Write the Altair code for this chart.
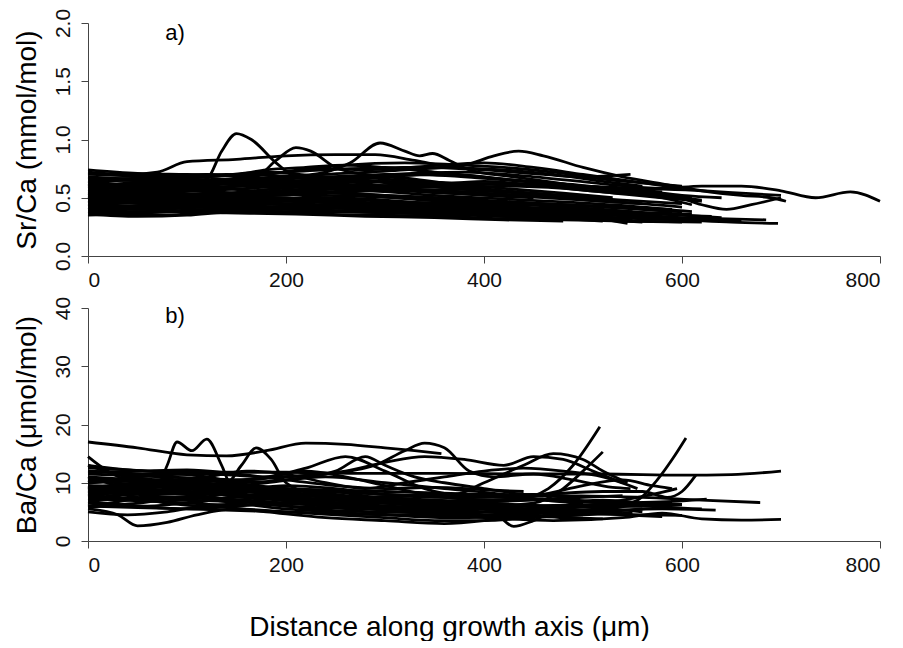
import altair as alt
import pandas as pd

# ---------------- data ----------------
X_TICKS = [0, 200, 400, 600, 800]
SR_TICKS = [0.0, 0.5, 1.0, 1.5, 2.0]
BA_TICKS = [0, 10, 20, 30, 40]

# Sr/Ca profiles (distance um, mmol/mol) - lines with distinct features
SR_FEATURE_LINES = [
    [(0,0.72),(40,0.70),(70,0.72),(100,0.81),(150,0.83),(200,0.86),(250,0.87),(290,0.87),(330,0.82),(370,0.76),(420,0.74),(470,0.70),(520,0.64),(560,0.60)],
    [(0,0.62),(50,0.60),(100,0.62),(120,0.66),(135,0.90),(150,1.05),(165,1.00),(190,0.80),(210,0.68),(260,0.64),(300,0.60),(350,0.55),(400,0.52),(450,0.50)],
    [(0,0.55),(60,0.58),(120,0.62),(170,0.68),(190,0.82),(210,0.93),(225,0.90),(250,0.76),(280,0.70),(330,0.66),(380,0.60),(430,0.55),(480,0.52),(520,0.48)],
    [(0,0.50),(60,0.55),(120,0.60),(180,0.66),(240,0.72),(265,0.80),(295,0.97),(320,0.90),(335,0.86),(348,0.88),(365,0.82),(385,0.74),(430,0.68),(480,0.62),(530,0.56),(580,0.50),(610,0.44)],
    [(0,0.60),(80,0.62),(160,0.66),(240,0.70),(320,0.74),(380,0.78),(410,0.86),(435,0.90),(460,0.86),(500,0.76),(540,0.68),(580,0.62),(620,0.56),(660,0.52),(690,0.50),(705,0.47)],
    [(0,0.65),(80,0.66),(160,0.70),(240,0.74),(320,0.76),(400,0.74),(460,0.70),(500,0.68),(548,0.70)],
    [(0,0.58),(100,0.60),(200,0.66),(300,0.70),(380,0.72),(450,0.68),(520,0.62),(580,0.58),(620,0.60),(660,0.60),(700,0.56),(735,0.50),(770,0.55),(800,0.47)],
    [(0,0.48),(100,0.52),(200,0.56),(300,0.60),(400,0.62),(480,0.60),(540,0.56),(590,0.52),(620,0.44),(645,0.40),(670,0.44),(700,0.50)],
    [(0,0.55),(100,0.58),(200,0.62),(300,0.64),(400,0.62),(500,0.60),(560,0.58),(620,0.56),(660,0.54),(700,0.52)],
    [(0,0.40),(100,0.42),(200,0.40),(300,0.38),(400,0.36),(500,0.34),(600,0.31),(650,0.29),(697,0.28)],
    [(0,0.45),(100,0.46),(200,0.44),(300,0.42),(400,0.40),(500,0.37),(600,0.33),(685,0.31)],
    [(0,0.74),(50,0.71),(100,0.70),(140,0.69),(180,0.74),(220,0.76),(260,0.78),(300,0.76),(350,0.72),(400,0.68),(440,0.64),(480,0.60)],
    [(0,0.66),(100,0.68),(200,0.72),(260,0.78),(320,0.80),(380,0.78),(420,0.76),(470,0.72),(520,0.66),(570,0.62),(600,0.60)],
    [(0,0.58),(100,0.62),(180,0.70),(230,0.75),(280,0.74),(340,0.77),(400,0.80),(450,0.76),(500,0.70),(550,0.64),(600,0.58)],
]

# Sr/Ca profiles forming the dense band
SR_BAND_LINES = [
    [(0,0.36),(50,0.34),(100,0.35),(150,0.38),(250,0.38),(350,0.36),(450,0.33),(550,0.30),(620,0.29)],
    [(0,0.38),(40,0.36),(80,0.35),(120,0.38),(200,0.40),(300,0.37),(400,0.35),(500,0.32),(560,0.29)],
    [(0,0.42),(100,0.44),(200,0.42),(300,0.40),(400,0.38),(480,0.36),(545,0.28)],
    [(0,0.50),(60,0.46),(120,0.48),(200,0.50),(280,0.46),(360,0.44),(440,0.42),(520,0.38),(600,0.35),(640,0.33)],
    [(0,0.55),(50,0.52),(100,0.56),(160,0.60),(220,0.56),(280,0.52),(340,0.48),(400,0.45),(460,0.43),(500,0.40)],
    [(0,0.46),(80,0.50),(160,0.54),(240,0.52),(320,0.50),(400,0.47),(480,0.44),(560,0.40),(600,0.38)],
    [(0,0.52),(60,0.56),(120,0.58),(180,0.55),(240,0.50),(300,0.47),(360,0.45),(420,0.43),(460,0.40)],
    [(0,0.44),(70,0.42),(140,0.46),(210,0.48),(280,0.45),(350,0.42),(420,0.40),(490,0.38),(560,0.35),(590,0.33)],
    [(0,0.60),(70,0.64),(140,0.66),(210,0.62),(280,0.60),(350,0.62),(420,0.58),(480,0.54),(530,0.50)],
    [(0,0.68),(60,0.66),(120,0.68),(180,0.72),(240,0.68),(300,0.66),(360,0.62),(400,0.58)],
    [(0,0.48),(90,0.44),(180,0.42),(270,0.44),(360,0.46),(450,0.44),(520,0.40),(580,0.36),(630,0.34)],
    [(0,0.40),(80,0.44),(160,0.48),(240,0.46),(320,0.43),(400,0.41),(480,0.40),(550,0.38)],
    [(0,0.57),(80,0.55),(160,0.58),(240,0.62),(320,0.58),(380,0.55),(430,0.52),(480,0.50),(520,0.47),(560,0.45)],
    [(0,0.64),(50,0.60),(100,0.58),(150,0.60),(200,0.64),(260,0.66),(320,0.62),(370,0.58),(420,0.55)],
    [(0,0.53),(100,0.50),(200,0.47),(300,0.44),(400,0.42),(500,0.40),(570,0.37),(610,0.36)],
    [(0,0.45),(60,0.48),(120,0.52),(180,0.50),(240,0.46),(300,0.44),(360,0.40),(420,0.38),(480,0.36),(520,0.34)],
    [(0,0.62),(80,0.58),(160,0.54),(240,0.57),(320,0.60),(400,0.56),(470,0.52),(540,0.48),(600,0.45)],
    [(0,0.70),(60,0.68),(120,0.65),(180,0.62),(240,0.64),(300,0.68),(360,0.70),(420,0.66),(480,0.62),(530,0.58),(580,0.55)],
    [(0,0.42),(60,0.40),(120,0.42),(200,0.45),(280,0.42),(360,0.38),(440,0.36),(520,0.33),(600,0.31),(660,0.30)],
    [(0,0.49),(70,0.52),(140,0.50),(210,0.53),(280,0.56),(350,0.52),(420,0.49),(490,0.46),(560,0.42),(610,0.38)],
    [(0,0.66),(80,0.64),(160,0.62),(240,0.66),(320,0.70),(380,0.68),(440,0.64),(500,0.60),(560,0.56),(600,0.52),(640,0.50)],
    [(0,0.37),(100,0.39),(200,0.42),(300,0.40),(400,0.37),(480,0.35),(520,0.33)],
    [(0,0.58),(100,0.62),(200,0.60),(280,0.56),(340,0.60),(400,0.64),(460,0.60),(520,0.55),(570,0.52),(610,0.50)],
    [(0,0.51),(80,0.48),(160,0.52),(240,0.55),(300,0.52),(360,0.50),(420,0.47),(480,0.44),(540,0.42),(590,0.40)],
    [(0,0.47),(60,0.45),(120,0.44),(180,0.47),(240,0.50),(300,0.48),(360,0.44),(420,0.41),(480,0.38),(540,0.36),(580,0.34)],
    [(0,0.35),(60,0.37),(120,0.40),(180,0.38),(240,0.36),(300,0.35),(360,0.34),(420,0.32),(480,0.31),(540,0.30),(600,0.29)],
    [(0,0.59),(60,0.62),(120,0.64),(180,0.60),(240,0.58),(300,0.56),(360,0.57),(420,0.60),(480,0.58),(530,0.54),(580,0.50),(620,0.47)],
    [(0,0.63),(70,0.67),(140,0.70),(210,0.68),(280,0.64),(350,0.60),(420,0.56),(480,0.52),(520,0.50)],
    [(0,0.54),(70,0.50),(140,0.46),(210,0.44),(280,0.40),(350,0.37),(420,0.35),(490,0.33),(550,0.31)],
    [(0,0.43),(60,0.47),(120,0.50),(180,0.46),(240,0.43),(300,0.41),(360,0.38),(420,0.34),(480,0.32),(520,0.30)],
    [(0,0.67),(60,0.64),(120,0.62),(180,0.64),(240,0.60),(300,0.57),(360,0.54),(420,0.52),(480,0.49),(540,0.46),(600,0.42)],
    [(0,0.39),(80,0.38),(160,0.40),(240,0.43),(320,0.41),(400,0.39),(460,0.36),(520,0.35),(580,0.33),(620,0.31)],
    [(0,0.56),(60,0.54),(120,0.53),(180,0.57),(240,0.60),(300,0.58),(360,0.56),(420,0.53),(480,0.50),(540,0.47)],
    [(0,0.61),(60,0.58),(120,0.55),(180,0.52),(240,0.54),(300,0.52),(360,0.49),(420,0.46),(480,0.44),(530,0.42),(590,0.38)],
    [(0,0.71),(60,0.69),(120,0.70),(180,0.66),(240,0.62),(300,0.60),(360,0.60),(420,0.62),(480,0.60),(530,0.56),(580,0.52),(620,0.48)],
    [(0,0.36),(70,0.38),(140,0.37),(210,0.36),(280,0.34),(350,0.33),(420,0.31),(480,0.30)],
]

# Ba/Ca profiles (distance um, umol/mol) - lines with distinct features
BA_FEATURE_LINES = [
    [(0,17),(50,16),(100,14.8),(140,14.6),(180,15.5),(220,16.8),(260,16.6),(300,16),(330,15.5),(357,15)],
    [(0,8.5),(40,9),(70,9.5),(80,13),(90,17),(105,15.5),(120,17.5),(135,13),(145,9.5),(180,9),(220,8),(260,7),(300,6.5),(350,6),(400,5.5),(450,5)],
    [(0,10),(50,11),(100,11.5),(140,10),(155,13),(170,16),(185,14),(200,10),(230,8),(270,7.5),(320,6.5),(380,6),(430,5.5),(480,5.2)],
    [(0,12),(60,11.5),(120,11.5),(180,11),(240,11.5),(290,13),(320,15.5),(340,16.8),(360,16),(385,12),(410,11),(450,11.5),(490,10.5),(530,9.2),(548,9)],
    [(0,13),(60,12),(120,11.8),(200,11.8),(280,11.6),(360,11.6),(440,11.5),(520,11.5),(600,11.3),(650,11.4),(700,12)],
    [(0,8),(80,8.5),(160,7.5),(240,6.5),(320,6.5),(380,6.5),(430,7),(465,9),(490,13),(517,19.6)],
    [(0,9),(80,8),(160,8.5),(240,7),(320,7),(400,6),(450,6.5),(480,9),(500,12),(520,15.3)],
    [(0,7),(80,7.5),(160,7),(240,6),(320,5.5),(400,5),(460,5),(520,5.5),(555,7),(575,10.5),(590,14),(604,17.7)],
    [(0,10),(100,10.5),(200,9),(300,8),(400,7.5),(460,8),(520,8.5),(560,8.5),(585,7.5),(600,8.5),(614,11.3)],
    [(0,11),(100,10),(200,9),(300,8.5),(400,8),(480,7.8),(560,7.5),(620,7),(679,6.6)],
    [(0,6),(100,5.5),(200,5),(300,4.5),(400,4),(470,3.5),(540,4),(580,4.8),(620,3.8),(660,3.6),(700,3.7)],
    [(0,7.5),(100,7),(200,6.5),(300,6),(400,5.5),(500,5),(580,5.5),(634,5.3)],
    [(0,9.5),(100,9),(200,8),(300,7),(400,6.5),(480,6),(540,6.5),(590,6.8),(625,7.2)],
    [(0,7),(100,7.5),(200,6),(300,5.5),(380,6),(410,5),(430,2.5),(450,3.5),(480,6),(520,7),(560,6.5),(585,6)],
    [(0,5.5),(30,4.5),(50,2.6),(80,3.2),(110,4.5),(150,5.5),(200,5),(250,4.5),(300,4),(350,3.5),(400,3.5),(450,4),(500,4.5)],
    [(0,14.5),(20,12),(50,10),(100,9.5),(150,10),(200,10.5),(250,12),(280,14.5),(300,13),(330,11),(360,10),(400,9),(440,8),(490,7.5)],
    [(0,9),(100,10),(200,11),(260,12),(300,13.5),(340,14.5),(380,14),(420,13),(450,14.5),(480,14),(510,12),(540,10)],
    [(0,11.5),(80,11),(160,10.5),(220,12.5),(260,14.5),(300,12),(340,9),(370,8),(400,10),(440,13),(470,15),(500,14),(520,12),(545,10)],
]

# Ba/Ca profiles forming the dense band
BA_BAND_LINES = [
    [(0,5),(40,4.5),(80,5),(120,6),(180,5),(240,4),(300,3.5),(360,3),(400,3.5),(440,4.5),(480,5),(520,5.5),(560,5)],
    [(0,12.5),(60,12),(120,11),(180,9),(240,8.5),(300,8),(360,7.5),(410,7),(460,8),(500,9.5),(540,10.5),(570,9.5),(590,9)],
    [(0,8),(50,7),(100,6.5),(150,7.5),(200,7),(260,6),(320,5),(370,4.5),(420,4),(470,4.5),(520,5),(560,5.5)],
    [(0,9),(60,10),(120,9.5),(180,8.5),(230,7),(280,6),(330,5.5),(380,5.5),(430,6),(480,5.5),(520,5)],
    [(0,6.5),(60,6),(120,7),(180,8),(240,7.5),(300,6.5),(360,6),(420,5.5),(480,5),(540,4.5),(580,4.2)],
    [(0,10.5),(60,9.5),(120,9),(180,10),(240,11),(300,10),(360,9),(420,8),(460,7),(500,6.5)],
    [(0,8.8),(80,9.5),(160,8),(220,6.5),(280,5.5),(340,5),(400,4.5),(450,5),(500,6),(540,7),(570,8),(595,9)],
    [(0,7.8),(50,8.5),(100,8),(150,7),(200,6),(250,5.2),(300,5),(350,4.8),(400,5),(450,5.5),(500,5.2),(540,4.8)],
    [(0,11),(40,9),(80,7.5),(120,8),(160,9),(200,8.5),(240,7.5),(290,6.8),(340,7),(390,6.5),(440,6),(500,6.2),(560,6),(620,5.5)],
    [(0,6),(40,7),(80,8.5),(130,9),(180,8),(230,6.5),(280,5),(330,4.2),(380,4),(430,4.5),(480,4),(520,3.8)],
    [(0,13),(40,11),(80,10.5),(120,11),(160,12),(200,11.5),(240,10),(280,9),(320,10),(360,11),(400,12),(440,12.5),(480,12),(520,11),(555,9)],
    [(0,7.2),(70,6.8),(140,6.2),(210,6.5),(280,7.5),(350,7.8),(420,7.5),(490,7),(560,6.5),(600,6.3)],
    [(0,9.5),(60,8.5),(120,9.5),(180,11),(220,12),(260,11),(300,9.5),(340,8),(380,7.2),(420,7),(460,7.2)],
    [(0,8.2),(50,9),(100,8.5),(150,8),(200,7.5),(250,7),(300,6.5),(350,6),(400,6.2),(450,6),(500,5.8),(560,6),(600,6.2)],
    [(0,6.8),(50,6),(100,5.5),(150,6),(200,6.5),(250,6),(300,5.5),(350,5),(400,4.5),(450,4.2),(500,4.5),(550,4.8)],
    [(0,10),(50,10.5),(100,10),(150,9),(200,8.2),(250,7.8),(300,7.5),(350,7),(400,6.8),(450,7),(500,7.5),(540,7.8)],
    [(0,9.2),(50,8),(100,7.2),(150,8.5),(200,9.5),(250,9),(300,8),(350,7.5),(400,7.8),(450,8),(490,7.6)],
    [(0,5.8),(50,6.5),(100,7.5),(150,6.5),(200,5.5),(250,5),(300,4.5),(350,4.5),(400,5),(450,5.2),(500,4.8),(560,4.5),(600,4.4)],
    [(0,12),(50,11.5),(100,10.2),(150,9.5),(200,9),(250,8.5),(300,7.2),(350,6.5),(400,6),(440,5.8)],
    [(0,7.5),(50,8),(100,9),(150,9.5),(200,8.8),(250,8),(300,7),(350,6.2),(400,5.8),(450,5.5),(500,5.8),(550,6.2),(590,6.5)],
    [(0,11.8),(50,12),(100,12.2),(150,11.5),(200,10.5),(250,9.5),(300,9),(350,9.2),(400,8.8),(440,8.5)],
    [(0,8.6),(40,7.8),(80,6.5),(120,6),(160,6.8),(200,7.5),(250,7),(300,6),(350,5.5),(400,5),(450,4.8),(500,5),(530,5.2)],
    [(0,10.8),(60,10),(120,8.5),(180,7.5),(240,7),(300,7.5),(360,8),(420,7.5),(480,6.8),(530,6.5)],
]

PANEL_LABELS = {"sr": ("a)", 88, 1.91), "ba": ("b)", 88, 38.6)}

FONT = "Liberation Sans"


def to_frame(groups):
    rows = []
    sid = 0
    for group in groups:
        for line in group:
            for i, (x, y) in enumerate(line):
                rows.append({"sid": sid, "i": i, "x": x, "y": y})
            sid += 1
    return pd.DataFrame(rows)


sr_df = to_frame([SR_FEATURE_LINES, SR_BAND_LINES])
ba_df = to_frame([BA_FEATURE_LINES, BA_BAND_LINES])

W, H = 792, 233


def panel(df, ydom, yticks, yfmt, ytitle, label, show_xtitle):
    if show_xtitle:
        x_axis = alt.Axis(
            values=X_TICKS, format="d", grid=False, labelPadding=6,
            title="Distance along growth axis (\u03bcm)",
            titleFontSize=28, titleFont=FONT, titleFontWeight="normal",
            titlePadding=38, titleX=361,
        )
    else:
        x_axis = alt.Axis(values=X_TICKS, format="d", grid=False, title=None, labelPadding=6)
    lines = alt.Chart(df).mark_line(
        color="black", strokeWidth=2.8, interpolate="monotone"
    ).encode(
        x=alt.X("x:Q", scale=alt.Scale(domain=[0, 800], nice=False, zero=False), axis=x_axis),
        y=alt.Y("y:Q", scale=alt.Scale(domain=ydom, nice=False),
                axis=alt.Axis(values=yticks, format=yfmt, grid=False, title=ytitle,
                              labelAngle=-90, labelAlign="center", labelBaseline="bottom",
                              labelPadding=8, titlePadding=11, titleFontSize=28,
                              titleFont=FONT, titleFontWeight="normal")),
        detail="sid:N",
        order="i:Q",
    )
    txt, tx, ty = label
    lab = alt.Chart(pd.DataFrame({"x": [tx], "y": [ty], "t": [txt]})).mark_text(
        font=FONT, fontSize=22, color="black"
    ).encode(x="x:Q", y="y:Q", text="t:N")
    return alt.layer(lines, lab).properties(width=W, height=H)


top = panel(sr_df, [0, 2], SR_TICKS, ".1f", "Sr/Ca (mmol/mol)", PANEL_LABELS["sr"], False)
bottom = panel(ba_df, [0, 40], BA_TICKS, "d", "Ba/Ca (\u03bcmol/mol)", PANEL_LABELS["ba"], True)

chart = alt.vconcat(top, bottom, spacing=6).properties(
    padding={"left": 5, "top": 0, "right": 0, "bottom": 0}
).configure_view(stroke=None).configure_axis(
    labelFont=FONT, labelFontSize=21, labelColor="#111",
    titleFont=FONT, titleColor="black",
    domainColor="#444", domainWidth=1, tickColor="#444", tickWidth=1, tickSize=7,
)

chart.save("out.html", embed_options={"renderer": "svg", "actions": False})
